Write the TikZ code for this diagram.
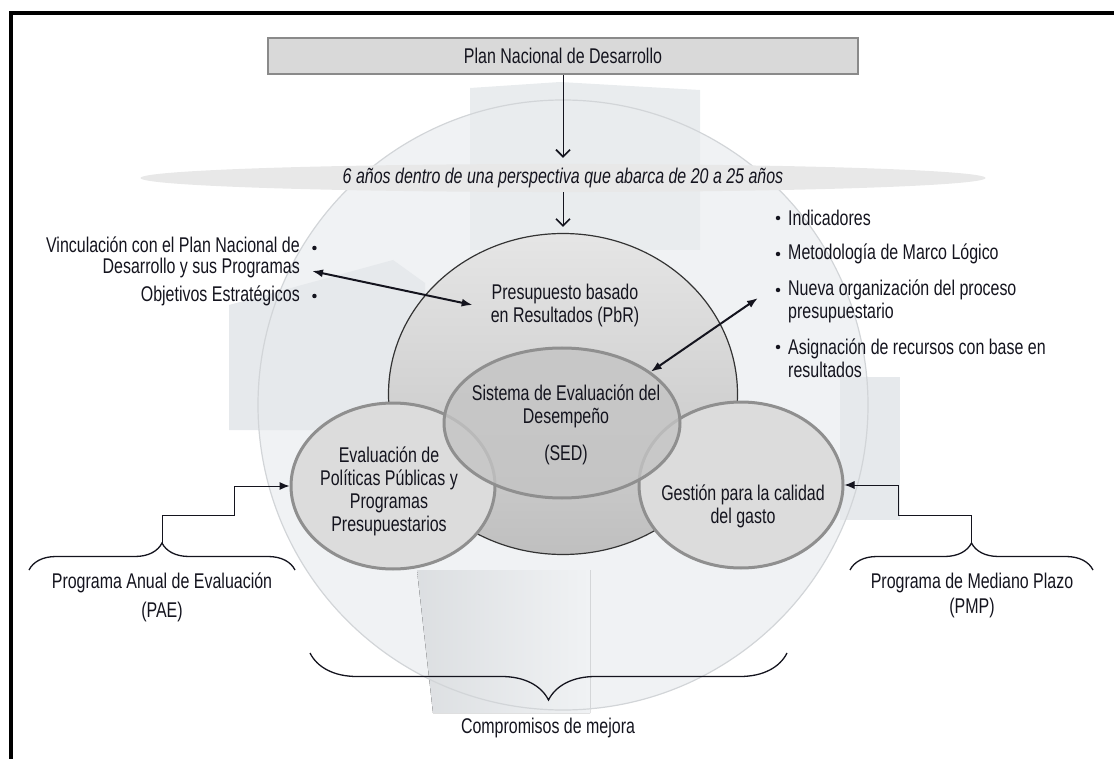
\documentclass[tikz,border=0pt]{standalone}
\usepackage{fontspec}
\setmainfont{Liberation Sans}[FakeStretch=0.75]
\usepackage{tikz}
\usetikzlibrary{arrows.meta, positioning, shapes.geometric, calc, decorations.pathreplacing}
\usepackage{xcolor}

\definecolor{ink}{HTML}{14141E}
\definecolor{boxfill}{HTML}{D9D9D9}
\definecolor{boxline}{HTML}{8A8A8A}
\definecolor{bandfill}{HTML}{E8E8E8}
\definecolor{discfill}{HTML}{F0F2F4}
\definecolor{discline}{HTML}{D2D5D8}
\definecolor{ribbon}{HTML}{E6E9EC}
\definecolor{ringline}{HTML}{8F8F8F}
\definecolor{ringfill}{HTML}{DCDCDC}
\definecolor{sedfill}{HTML}{C4C4C4}

\begin{document}
\begin{tikzpicture}[x=1pt, y=-1pt,
  every node/.style={font=\fontsize{21.3}{23}\selectfont, align=center, text=ink, inner sep=0pt},
  planbox/.style ={rectangle, draw=boxline, line width=2.5pt, fill=boxfill,
                   minimum width=590pt, minimum height=36pt},
  bandnode/.style={ellipse, fill=bandfill, minimum width=845pt, minimum height=28pt},
  pbrdisc/.style ={ellipse, draw=black!80, line width=1.2pt, top color=gray!20, bottom color=gray!50,
                   minimum width=349pt, minimum height=321pt},
  sedring/.style ={ellipse, draw=ringline, line width=3pt, fill=sedfill, fill opacity=0.8,
                   minimum width=236pt, minimum height=150pt},
  ringnode/.style={ellipse, draw=ringline, line width=3pt, fill=ringfill,
                   minimum width=204pt, minimum height=166pt},
  bulletdot/.style={circle, fill=ink, minimum size=4.5pt},
  drop/.style    ={-{Straight Barb[length=7pt, width=14pt, line width=1.6pt]}, line width=1pt, ink,
                   shorten >=6pt},
  twoway/.style  ={{Latex[length=11pt, width=8pt]}-{Latex[length=11pt, width=8pt]}, line width=2pt, ink},
  feed/.style    ={-{Latex[length=10pt, width=8pt]}, line width=1pt, ink},
  curly/.style   ={decorate, decoration={brace, amplitude=#1}, line width=1.3pt, ink},
]
\useasboundingbox (0,0) rectangle (1114,759);

% Disc and ribbons behind
\fill[discfill] (563,405) circle[radius=305pt];
\fill[ribbon] (229,305) -- (393,260) -- (425,283) -- (425,430) -- (229,430) -- cycle;
\fill[ribbon!70!discfill] (470,88) -- (560,82) -- (700,90) -- (700,250) -- (470,250) -- cycle;
\fill[left color=ribbon!90!gray, right color=discfill] (417,570) -- (590,570) -- (590,713) -- (433,713) -- cycle;
\fill[ribbon] (840,377) -- (900,377) -- (900,520) -- (840,520) -- cycle;
\draw[discline, line width=1.2pt] (563,405) circle[radius=305pt];

% Frame
\draw[line width=4pt] (11,759) -- (11,13) -- (1114,13);

% Top chain
\node[planbox]  (plan)  at (563,56)  {Plan Nacional de Desarrollo};
\node[bandnode] (horiz) at (563,178) {\itshape 6 años dentro de una perspectiva que abarca de 20 a 25 años};

% Circles
\node[pbrdisc]  (pbr)  at (563,394) {};
\node[ringnode] (eval) at (393,486) {};
\node[ringnode] (gest) at (741,485) {};
\node[sedring]  (sed)  at (562,423) {};
\node (sedtxt)  at (566,425) {Sistema de Evaluación del\\Desempeño\\[14pt](SED)};
\node (pbrtxt)  at (565,305) {Presupuesto basado\\en Resultados (PbR)};
\node (evaltxt) at (389,491) {Evaluación de\\Políticas Públicas y\\Programas\\Presupuestarios};
\node (gesttxt) at (743,506) {Gestión para la calidad\\del gasto};

\draw[drop] (plan.south) -- (horiz.north);
\draw[drop] (horiz.south) -- (pbr.north);

% Left list
\node[anchor=east] (vinc) at (300,245) {Vinculación con el Plan Nacional de};
\node[anchor=east] (desa) at (300,268) {Desarrollo y sus Programas};
\node[anchor=east] (obje) at (300,296) {Objetivos Estratégicos};
\node[bulletdot, right=12pt of vinc, yshift=-3pt] (bv) {};
\node[bulletdot, right=12pt of obje] (bo) {};

% Right list
\node[anchor=west] (indi) at (788,218) {Indicadores};
\node[anchor=west] (meto) at (788,254) {Metodología de Marco Lógico};
\node[anchor=west, align=left] (nuev) at (788,301) {Nueva organización del proceso\\presupuestario};
\node[anchor=west, align=left] (asig) at (788,358) {Asignación de recursos con base en\\resultados};
\node[bulletdot] (bi) at (778,218) {};
\node[bulletdot] (bm) at (778,254) {};
\node[bulletdot] (bn) at (778,290) {};
\node[bulletdot] (ba) at (778,347) {};

\draw[twoway] ([xshift=12pt, yshift=-3pt]desa.east) -- ([xshift=-18pt]pbrtxt.west);
\draw[twoway] (sed.30) -- ([xshift=-30pt, yshift=3pt]nuev.west);

% Braces and feeds
\draw[curly=27pt] (29,570) -- (295,570);
\coordinate (paetip) at (162,543);
\node (pae) at (162,597) {Programa Anual de Evaluación\\[6pt](PAE)};
\draw[feed] (paetip) |- ++(72,-28) |- (eval.west);

\draw[curly=27pt] (850,570) -- (1093,570);
\coordinate (pmptip) at (971,543);
\node (pmp) at (972,595) {Programa de Mediano Plazo\\[2pt](PMP)};
\draw[feed] (pmptip) |- ++(-73,-28) |- (gest.east);

\draw[curly=47pt] (787,653) -- (310,653);
\node (comp) at (548,728) {Compromisos de mejora};

\end{tikzpicture}
\end{document}
